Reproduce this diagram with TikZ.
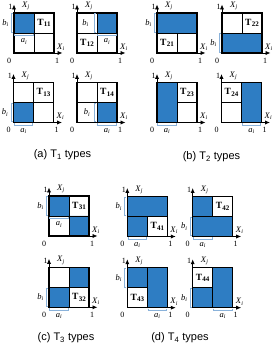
\documentclass[tikz,border=0pt]{standalone}
\usepackage{fontspec}
\setmainfont{Liberation Serif}
\setsansfont{Liberation Sans}
\usetikzlibrary{arrows.meta}
\definecolor{qblue}{HTML}{2E7DC3}
\definecolor{bblue}{HTML}{8AB2DA}
\tikzset{
  qfill/.style={fill=qblue},
  innerln/.style={line width=0.9pt},
  outerln/.style={line width=1.15pt},
  axln/.style={line width=0.8pt,-{Latex[length=5pt,width=4.2pt]}},
  brk/.style={draw=bblue,line width=0.7pt},
  ilab/.style={inner sep=0pt,font=\fontsize{8.5}{8.5}\selectfont},
  numlab/.style={inner sep=0pt,font=\fontsize{8}{8}\selectfont},
  tlab/.style={inner sep=0pt,font=\fontsize{9.5}{9.5}\selectfont\bfseries},
  capnode/.style={inner sep=0pt,font=\sffamily\fontsize{11}{11}\selectfont},
}
\newcommand\iv[2]{\textit{#1}\textsubscript{\textit{#2}}}
\newcommand\tlbl[1]{T\kern0.2pt\raisebox{-0.3ex}{\fontsize{7}{7}\selectfont #1}}
\newcommand\panelax[1]{%
  \draw[axln] (0,0) -- (48.5,0);
  \draw[axln] (0,0) -- (0,48.5);
  \node[numlab] (#1top) at (-3.5,46.5) {1};
  \node[numlab] (#1zero) at (-5,-7.5) {0};
  \node[numlab] (#1one) at (43,-7.5) {1};
  \node[ilab] (#1xj) at (12,47) {\iv{X}{j}};
  \node[ilab] (#1xi) at (47,6) {\iv{X}{i}};
}
% b bracket outside left, from y=#1 to y=#2
\newcommand\bout[3]{%
  \draw[brk] (-1,#1+0.8) -- (-2.6,#1+0.8) -- (-2.6,#2-0.8) -- (-1,#2-0.8);
  \node[ilab] (#3b) at (-8.5,{(#1+#2)/2}) {\iv{b}{i}};
}
% a bracket below axis, from x=#1 to x=#2
\newcommand\abot[3]{%
  \draw[brk] (#1+0.8,-1) -- (#1+0.8,-2.6) -- (#2-0.8,-2.6) -- (#2-0.8,-1);
  \node[ilab] (#3a) at ({(#1+#2)/2},-8.5) {\iv{a}{i}};
}
% a bracket inside, just below mid line
\newcommand\ain[3]{%
  \draw[brk] (#1+0.8,18.8) -- (#1+0.8,17.4) -- (#2-0.8,17.4) -- (#2-0.8,18.8);
  \node[ilab] (#3a) at ({(#1+#2)/2},11.5) {\iv{a}{i}};
}
% b bracket inside, just left of mid line
\newcommand\bin[4]{%
  \draw[brk] (18.8,#1+0.8) -- (17.4,#1+0.8) -- (17.4,#2-0.8) -- (18.8,#2-0.8);
  \node[ilab] (#4b) at (#3,{(#1+#2)/2}) {\iv{b}{i}};
}
\begin{document}
\begin{tikzpicture}[x=1pt,y=1pt]
\useasboundingbox (0,0) rectangle (279,351);

% ---------- T11
\begin{scope}[shift={(14,298)}]
  \fill[qfill] (0,20) rectangle (20,40);
  \draw[innerln] (20,0) -- (20,40) (0,20) -- (40,20);
  \panelax{p11}
  \draw[outerln] (0,0) rectangle (40,40);
  \bout{20}{40}{p11}
  \ain{0}{20}{p11}
  \node[tlab] (t11) at (30,30) {\tlbl{11}};
\end{scope}
% ---------- T12
\begin{scope}[shift={(77,298)}]
  \fill[qfill] (20,20) rectangle (40,40);
  \draw[innerln] (20,0) -- (20,40) (0,20) -- (40,20);
  \panelax{p12}
  \draw[outerln] (0,0) rectangle (40,40);
  \bin{20}{40}{8.5}{p12}
  \ain{20}{40}{p12}
  \node[tlab] (t12) at (10,10) {\tlbl{12}};
\end{scope}
% ---------- T13
\begin{scope}[shift={(13.5,228.5)}]
  \fill[qfill] (0,0) rectangle (20,20);
  \draw[innerln] (20,0) -- (20,40) (0,20) -- (40,20);
  \panelax{p13}
  \draw[outerln] (0,0) rectangle (40,40);
  \bout{0}{20}{p13}
  \abot{0}{20}{p13}
  \node[tlab] (t13) at (30,30) {\tlbl{13}};
\end{scope}
% ---------- T14
\begin{scope}[shift={(77,228.5)}]
  \fill[qfill] (20,0) rectangle (40,20);
  \draw[innerln] (20,0) -- (20,40) (0,20) -- (40,20);
  \panelax{p14}
  \draw[outerln] (0,0) rectangle (40,40);
  \bin{0}{20}{10}{p14}
  \abot{20}{40}{p14}
  \node[tlab] (t14) at (30,30) {\tlbl{14}};
\end{scope}
% ---------- T21
\begin{scope}[shift={(157,298)}]
  \fill[qfill] (0,20) rectangle (40,40);
  \draw[innerln] (20,0) -- (20,20) (0,20) -- (40,20);
  \panelax{p21}
  \draw[outerln] (0,0) rectangle (40,40);
  \bout{20}{40}{p21}
  \node[tlab] (t21) at (10,10) {\tlbl{21}};
\end{scope}
% ---------- T22
\begin{scope}[shift={(222,298)}]
  \fill[qfill] (0,0) rectangle (40,20);
  \draw[innerln] (20,20) -- (20,40) (0,20) -- (40,20);
  \panelax{p22}
  \draw[outerln] (0,0) rectangle (40,40);
  \bout{0}{20}{p22}
  \node[tlab] (t22) at (30,30) {\tlbl{22}};
\end{scope}
% ---------- T23
\begin{scope}[shift={(157,228.5)}]
  \fill[qfill] (0,0) rectangle (20,40);
  \draw[innerln] (20,0) -- (20,40) (20,20) -- (40,20);
  \panelax{p23}
  \draw[outerln] (0,0) rectangle (40,40);
  \abot{0}{20}{p23}
  \node[tlab] (t23) at (30,30) {\tlbl{23}};
\end{scope}
% ---------- T24
\begin{scope}[shift={(221.5,228.5)}]
  \fill[qfill] (20,0) rectangle (40,40);
  \draw[innerln] (20,0) -- (20,40) (0,20) -- (20,20);
  \panelax{p24}
  \draw[outerln] (0,0) rectangle (40,40);
  \abot{20}{40}{p24}
  \node[tlab] (t24) at (10,30) {\tlbl{24}};
\end{scope}
% ---------- T31
\begin{scope}[shift={(49,115)}]
  \fill[qfill] (0,20) rectangle (20,40) (20,0) rectangle (40,20);
  \draw[innerln] (20,0) -- (20,40) (0,20) -- (40,20);
  \panelax{p31}
  \draw[outerln] (0,0) rectangle (40,40);
  \bout{20}{40}{p31}
  \ain{0}{20}{p31}
  \node[tlab] (t31) at (30,30) {\tlbl{31}};
\end{scope}
% ---------- T32
\begin{scope}[shift={(49,43.7)}]
  \fill[qfill] (20,20) rectangle (40,40) (0,0) rectangle (20,20);
  \draw[innerln] (20,0) -- (20,40) (0,20) -- (40,20);
  \panelax{p32}
  \draw[outerln] (0,0) rectangle (40,40);
  \bout{0}{20}{p32}
  \abot{0}{20}{p32}
  \node[tlab] (t32) at (30,10) {\tlbl{32}};
\end{scope}
% ---------- T41
\begin{scope}[shift={(127.3,114.5)}]
  \fill[qfill] (0,20) rectangle (40,40) (0,0) rectangle (20,20);
  \draw[innerln] (20,0) -- (20,20) (0,20) -- (40,20);
  \panelax{p41}
  \draw[outerln] (0,0) rectangle (40,40);
  \bout{20}{40}{p41}
  \abot{0}{20}{p41}
  \node[tlab] (t41) at (30,10) {\tlbl{41}};
\end{scope}
% ---------- T42
\begin{scope}[shift={(192.7,114.5)}]
  \fill[qfill] (0,20) rectangle (20,40) (0,0) rectangle (40,20);
  \draw[innerln] (20,20) -- (20,40) (0,20) -- (40,20);
  \panelax{p42}
  \draw[outerln] (0,0) rectangle (40,40);
  \bout{0}{20}{p42}
  \abot{0}{20}{p42}
  \node[tlab] (t42) at (30,30) {\tlbl{42}};
\end{scope}
% ---------- T43
\begin{scope}[shift={(127.3,43.3)}]
  \fill[qfill] (0,20) rectangle (20,40) (20,0) rectangle (40,40);
  \draw[innerln] (20,0) -- (20,40) (0,20) -- (20,20);
  \panelax{p43}
  \draw[outerln] (0,0) rectangle (40,40);
  \bout{20}{40}{p43}
  \abot{20}{40}{p43}
  \node[tlab] (t43) at (10,10) {\tlbl{43}};
\end{scope}
% ---------- T44
\begin{scope}[shift={(192.7,43.3)}]
  \fill[qfill] (0,0) rectangle (20,20) (20,0) rectangle (40,40);
  \draw[innerln] (20,0) -- (20,40) (0,20) -- (20,20);
  \panelax{p44}
  \draw[outerln] (0,0) rectangle (40,40);
  \bout{0}{20}{p44}
  \abot{20}{40}{p44}
  \node[tlab] (t44) at (10,30) {\tlbl{44}};
\end{scope}

% ---------- captions
\node[capnode] (capa) at (62.5,196) {(a) T\textsubscript{1} types};
\node[capnode] (capb) at (211.5,194) {(b) T\textsubscript{2} types};
\node[capnode] (capc) at (66,13) {(c) T\textsubscript{3} types};
\node[capnode] (capd) at (180,13) {(d) T\textsubscript{4} types};
\end{tikzpicture}
\end{document}
